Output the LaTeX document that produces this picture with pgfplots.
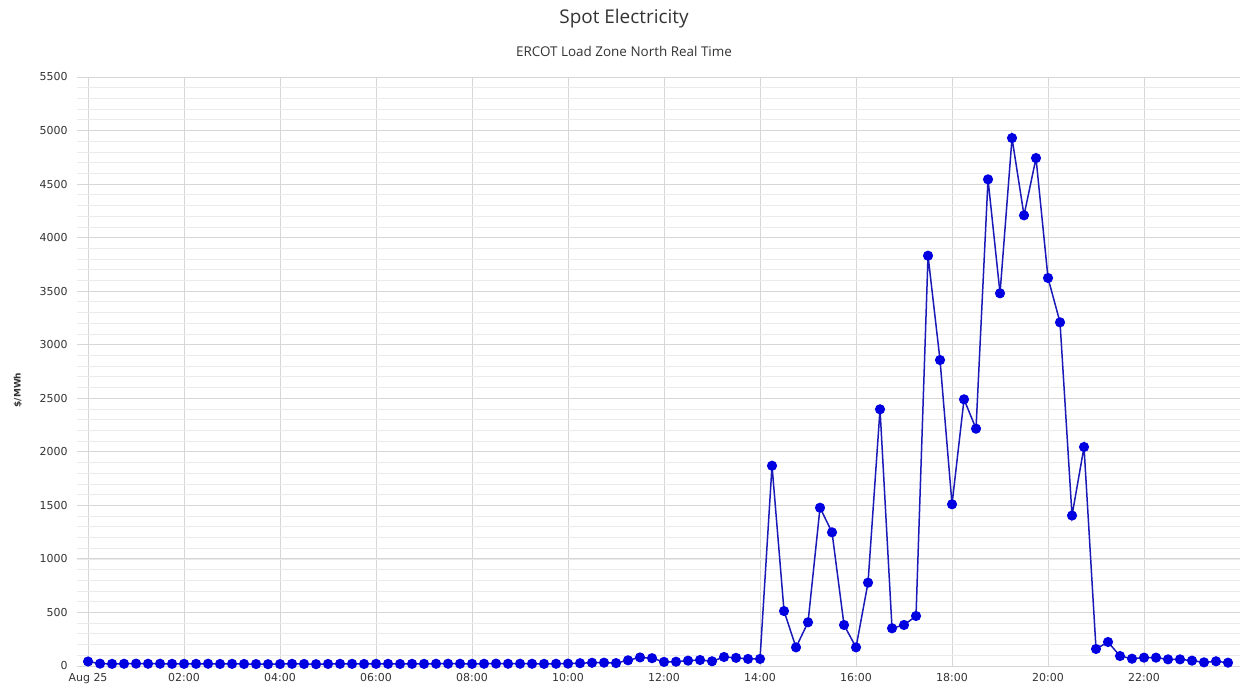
\documentclass[border=0pt]{standalone}
\usepackage{fontspec}
\setmainfont{Open Sans}
\newfontfamily\tickfont{DejaVu Sans}
\usepackage{pgfplots}
\pgfplotsset{compat=1.18}
\definecolor{gridmaj}{HTML}{D6D6D6}
\definecolor{gridmin}{HTML}{EBEBEB}
\definecolor{linecol}{HTML}{1A1AB8}
\definecolor{markcol}{HTML}{0000E0}
\definecolor{txt}{HTML}{333333}
\begin{document}
\begin{tikzpicture}[x=1bp,y=1bp]
\path[use as bounding box] (0,0) rectangle (1244,696);
\node[font=\fontsize{19}{22}\selectfont, text=txt] at (624,677) {Spot Electricity};
\node[font=\fontsize{13.5}{16}\selectfont, text=txt] at (624,645) {ERCOT Load Zone North Real Time};
\node[font=\tickfont\bfseries\fontsize{9}{11}\selectfont, text=txt, rotate=90] at (18,306) {\$/MWh};
\begin{axis}[
  at={(77bp,30bp)}, anchor=south west,
  width=1163bp, height=589bp, scale only axis,
  xmin=-0.23, xmax=24.0, ymin=0, ymax=5500,
  xtick={0,2,...,22},
  xticklabels={Aug 25,02:00,04:00,06:00,08:00,10:00,12:00,14:00,16:00,18:00,20:00,22:00},
  ytick={0,500,...,5500},
  minor ytick={0,100,...,5500},
  grid=both,
  major grid style={gridmaj, line width=0.9bp},
  minor grid style={gridmin, line width=0.8bp},
  axis line style={draw=none},
  major tick length=0pt, minor tick length=0pt,
  tick label style={font=\tickfont\fontsize{11}{13}\selectfont, text=txt},
  /pgf/number format/assume math mode=true,
  /pgf/number format/1000 sep={},
  yticklabel style={xshift=-6bp},
  xticklabel style={yshift=-4bp},
  clip=false,
]
\addplot[color=linecol, line width=1.5bp, mark=*, mark size=4.3bp, mark options={fill=markcol, draw=markcol}]
table[x expr=\thisrow{i}*0.25, y=v] {
i v
0 42
1 22
2 20
3 21
4 22
5 21
6 21
7 20
8 20
9 20
10 21
11 19
12 20
13 19
14 18
15 17
16 18
17 20
18 19
19 17
20 19
21 20
22 20
23 19
24 20
25 20
26 19
27 20
28 20
29 21
30 21
31 21
32 20
33 21
34 22
35 21
36 21
37 21
38 20
39 21
40 22
41 26
42 30
43 31
44 27
45 53
46 80
47 73
48 38
49 40
50 50
51 56
52 44
53 84
54 76
55 66
56 66
57 1870
58 513
59 174
60 408
61 1478
62 1248
63 383
64 174
65 778
66 2397
67 352
68 383
69 467
70 3831
71 2857
72 1510
73 2490
74 2216
75 4544
76 3480
77 4930
78 4208
79 4743
80 3623
81 3209
82 1405
83 2045
84 159
85 224
86 93
87 68
88 78
89 78
90 62
91 62
92 50
93 34
94 44
95 31
};
\end{axis}
\end{tikzpicture}
\end{document}
